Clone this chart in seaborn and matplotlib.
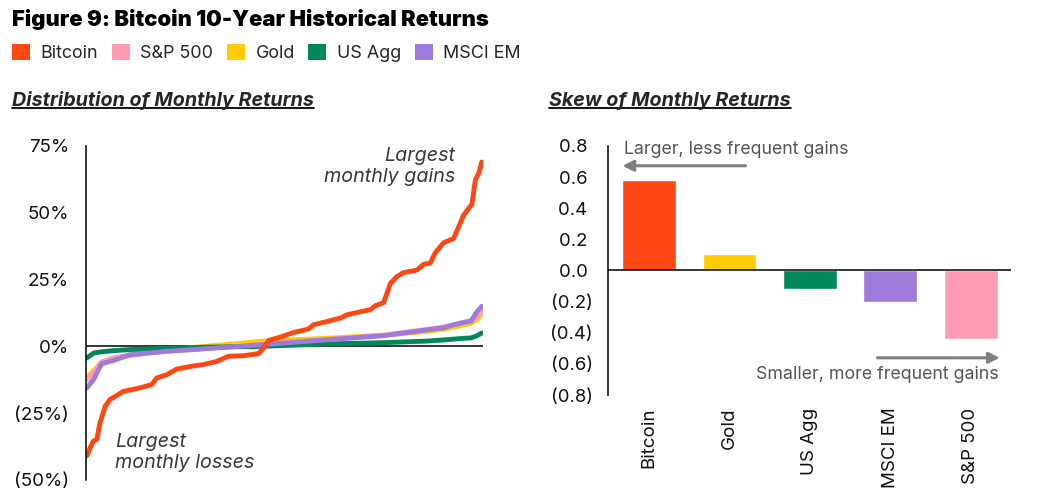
import numpy as np
import pandas as pd
import seaborn as sns
import matplotlib.pyplot as plt
from matplotlib.patches import Patch
from matplotlib.lines import Line2D

# sorted monthly returns (%) at percentile ranks
btc_rank = [0.003, 0.011, 0.019, 0.028, 0.036, 0.049, 0.061, 0.082, 0.095, 0.116,
            0.137, 0.166, 0.179, 0.204, 0.229, 0.263, 0.296, 0.330, 0.359, 0.397,
            0.435, 0.448, 0.460, 0.490, 0.523, 0.561, 0.573, 0.607, 0.641, 0.657,
            0.683, 0.716, 0.729, 0.750, 0.767, 0.783, 0.800, 0.834, 0.851, 0.867,
            0.880, 0.901, 0.926, 0.939, 0.951, 0.972, 0.981, 0.989, 0.997]
btc_ret = [-41.0, -38.0, -35.5, -34.8, -28.6, -22.4, -19.9, -18.0, -16.8, -16.2,
           -15.5, -14.3, -11.8, -10.6, -8.5, -7.5, -6.8, -5.6, -3.7, -3.5,
           -2.7, -0.6, 2.2, 3.5, 5.2, 6.5, 8.1, 9.3, 10.6, 11.8,
           12.7, 13.7, 15.2, 16.4, 23.6, 26.1, 27.6, 28.6, 30.8, 31.1,
           35.1, 38.8, 40.4, 44.8, 49.1, 53.2, 62.4, 64.7, 69.0]

rank = [0.003, 0.02, 0.04, 0.07, 0.11, 0.2, 0.3, 0.44, 0.6, 0.75,
        0.86, 0.9, 0.94, 0.97, 0.985, 0.997]
em_ret = [-15.5, -12.4, -6.5, -5.3, -3.2, -1.9, -0.9, 0.6, 2.4, 4.0,
          6.2, 7.0, 8.6, 9.5, 13.0, 15.0]
spx_ret = [-12.4, -9.9, -5.8, -4.3, -3.2, -1.8, -0.8, 0.7, 2.5, 4.2,
           6.4, 7.2, 8.6, 9.6, 11.0, 13.7]
gold_ret = [-11.5, -9.0, -6.2, -4.8, -3.4, -1.5, 0.0, 1.9, 3.0, 4.2,
            5.6, 6.4, 7.6, 8.6, 10.0, 12.4]
agg_ret = [-4.3, -2.5, -2.0, -1.6, -1.2, -0.8, -0.3, 0.0, 0.9, 1.4,
           2.0, 2.4, 2.9, 3.2, 4.0, 5.0]

skew_assets = ['Bitcoin', 'Gold', 'US Agg', 'MSCI EM', 'S&P 500']
skew_vals = [0.58, 0.107, -0.118, -0.205, -0.443]

legend_order = ['Bitcoin', 'S&P 500', 'Gold', 'US Agg', 'MSCI EM']
colors = {'Bitcoin': '#FF4713', 'S&P 500': '#FF9BB3', 'Gold': '#FFCC00',
          'US Agg': '#00875A', 'MSCI EM': '#9E7BD8'}

frames = [pd.DataFrame({'rank': btc_rank, 'ret': btc_ret, 'asset': 'Bitcoin'})]
for name, vals in [('Gold', gold_ret), ('S&P 500', spx_ret),
                   ('US Agg', agg_ret), ('MSCI EM', em_ret)]:
    frames.append(pd.DataFrame({'rank': rank, 'ret': vals, 'asset': name}))
dist = pd.concat(frames, ignore_index=True)

sns.set_theme(style='white')
plt.rcParams['font.family'] = ['Inter', 'DejaVu Sans']

W, H = 1038, 501
fig = plt.figure(figsize=(W / 100, H / 100), dpi=100)

def fx(px):
    return px / W

def fy(py):
    return 1 - py / H

# left: distribution of monthly returns
ax1 = fig.add_axes([fx(85.7), fy(480), fx(483) - fx(85.7), fy(146) - fy(480)])
sns.lineplot(data=dist, x='rank', y='ret', hue='asset',
             hue_order=['Gold', 'S&P 500', 'US Agg', 'MSCI EM', 'Bitcoin'],
             palette=colors, linewidth=3.5, sort=False, legend=False, ax=ax1)
ax1.axhline(0, color='black', lw=1.1, zorder=1)
ax1.set_xlim(0, 1)
ax1.set_ylim(-50, 75)
ax1.set_yticks([-50, -25, 0, 25, 50, 75])
ax1.set_yticklabels(['(50%)', '(25%)', '0%', '25%', '50%', '75%'])
ax1.set_xticks([])
ax1.set_xlabel('')
ax1.set_ylabel('')
ax1.tick_params(axis='y', length=0, pad=12, labelsize=13.5, labelcolor='#111111')
for s in ['top', 'right', 'bottom']:
    ax1.spines[s].set_visible(False)
ax1.spines['left'].set_color('black')
ax1.spines['left'].set_linewidth(1.1)
ax1.text(0.930, 67.4, 'Largest\nmonthly gains', ha='right', va='center',
         multialignment='right', style='italic', fontsize=14.2,
         color='#3a3a3a', linespacing=1.25)
ax1.text(0.074, -39.7, 'Largest\nmonthly losses', ha='left', va='center',
         style='italic', fontsize=14.2, color='#3a3a3a', linespacing=1.25)

# right: skew of monthly returns
ax2 = fig.add_axes([fx(608), fy(395), fx(1011) - fx(608), fy(146) - fy(395)])
sns.barplot(x=skew_assets, y=skew_vals, hue=skew_assets, palette=colors,
            width=0.67, saturation=1, legend=False, ax=ax2)
ax2.axhline(0, color='black', lw=1.1, zorder=3)
ax2.set_xlim(-0.51, 4.5)
ax2.set_ylim(-0.8, 0.8)
yt = [-0.8, -0.6, -0.4, -0.2, 0.0, 0.2, 0.4, 0.6, 0.8]
ax2.set_yticks(yt)
ax2.set_yticklabels([f'({abs(v):.1f})' if v < 0 else f'{v:.1f} ' for v in yt])
ax2.tick_params(axis='y', length=0, pad=11, labelsize=13.3, labelcolor='#111111')
ax2.tick_params(axis='x', length=0, pad=9, labelsize=13.5, labelcolor='#111111')
plt.setp(ax2.get_xticklabels(), rotation=90, va='top', ha='center')
for s in ['top', 'right', 'bottom']:
    ax2.spines[s].set_visible(False)
ax2.spines['left'].set_color('black')
ax2.spines['left'].set_linewidth(1.1)
ax2.annotate('', xy=(-0.33, 0.673), xytext=(1.2, 0.673),
             arrowprops=dict(arrowstyle='-|>', color='#7f7f7f', lw=2.2,
                             mutation_scale=16, shrinkA=0, shrinkB=0))
ax2.text(-0.31, 0.775, 'Larger, less frequent gains', ha='left', va='center',
         fontsize=12.8, color='#555555')
ax2.annotate('', xy=(4.36, -0.561), xytext=(2.84, -0.561),
             arrowprops=dict(arrowstyle='-|>', color='#7f7f7f', lw=2.2,
                             mutation_scale=16, shrinkA=0, shrinkB=0))
ax2.text(4.34, -0.67, 'Smaller, more frequent gains', ha='right', va='center',
         fontsize=12.8, color='#555555')

# title and legend
fig.text(fx(12), fy(26), 'Figure 9: Bitcoin 10-Year Historical Returns',
         ha='left', va='baseline', fontsize=15.8, fontweight=900, color='black')
handles = [Patch(facecolor=colors[a], edgecolor='none', label=a) for a in legend_order]
fig.legend(handles=handles, loc='center left', bbox_to_anchor=(fx(12), fy(53)),
           ncol=5, frameon=False, fontsize=12.9, handlelength=1.0,
           handleheight=1.0, handletextpad=0.6, columnspacing=0.75,
           borderaxespad=0, borderpad=0)

subs = [fig.text(fx(12), fy(106), 'Distribution of Monthly Returns', ha='left',
                 va='baseline', fontsize=14.2, fontweight='bold', style='italic'),
        fig.text(fx(549), fy(106), 'Skew of Monthly Returns', ha='left',
                 va='baseline', fontsize=14.2, fontweight='bold', style='italic')]
fig.canvas.draw()
r = fig.canvas.get_renderer()
for t in subs:
    bb = t.get_window_extent(r)
    fig.add_artist(Line2D([bb.x0 / W, bb.x1 / W], [fy(108), fy(108)],
                          transform=fig.transFigure, color='black', lw=1.3))

fig.savefig('out.png', dpi=100)
